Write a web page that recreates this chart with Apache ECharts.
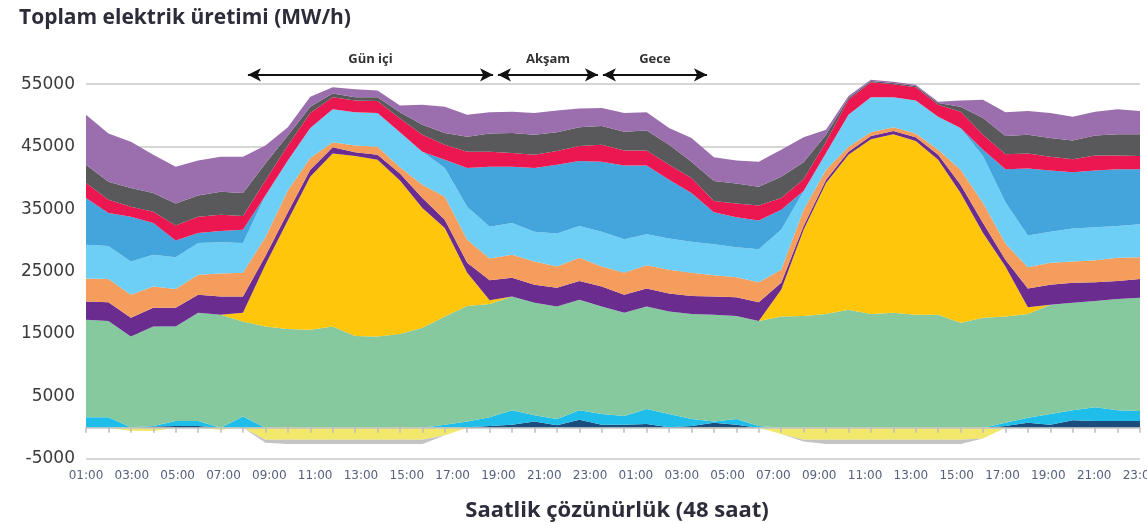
<!DOCTYPE html>
<html><head><meta charset="utf-8">
<script src="https://cdn.jsdelivr.net/npm/echarts@6/dist/echarts.min.js"></script>
<style>html,body{margin:0;padding:0;background:#fff}#c{width:1147px;height:523px}</style>
</head><body><div id="c"></div>
<script>
const hours = ['01:00','02:00','03:00','04:00','05:00','06:00','07:00','08:00','09:00','10:00','11:00','12:00',
  '13:00','14:00','15:00','16:00','17:00','18:00','19:00','20:00','21:00','22:00','23:00','24:00',
  '01:00','02:00','03:00','04:00','05:00','06:00','07:00','08:00','09:00','10:00','11:00','12:00',
  '13:00','14:00','15:00','16:00','17:00','18:00','19:00','20:00','21:00','22:00','23:00','24:00'];
const tickLabels = ['01:00','03:00','05:00','07:00','09:00','11:00','13:00','15:00','17:00','19:00','21:00','23:00',
  '01:00','03:00','05:00','07:00','09:00','11:00','13:00','15:00','17:00','19:00','21:00','23:00'];
const yLabels = [-5000, 5000, 15000, 25000, 35000, 45000, 55000];

// positive layers, bottom to top
const navy = [0,0,0,200,300,300,0,0, 0,0,0,0,0,0,0,0, 0,100,300,500,1000,400,1300,500, 500,600,100,300,800,500,0,0, 0,0,0,0,0,0,0,0, 0,300,800,500,1200,1100,1100,1100];
const cyan = [1700,1700,100,100,800,800,0,1800, 0,0,0,0,0,0,0,0, 500,900,1400,2300,1000,1000,1500,1700, 1400,2400,2100,1100,200,900,300,0, 0,0,0,0,0,0,0,0, 0,500,800,1700,1600,2200,1700,1600];
const green = [15600,15400,14500,15900,15100,17300,18100,15200, 16200,15800,15700,16200,14700,14600,15000,16000, 17300,18500,18100,18200,18000,18000,17700,17200, 16500,16400,16400,16800,17100,16500,16800,17800, 17900,18200,18900,18200,18400,18100,18100,16800, 17600,17000,16600,17500,17200,17000,17800,18100];
const gold = [0,0,0,0,0,0,0,1400, 9900,17400,24500,27700,28800,28300,24600,19200, 14200,5300,600,0,0,0,0,0, 0,0,0,0,0,0,0,4300, 13800,21000,24800,28000,28600,27800,24800,20800, 13600,8000,1100,0,0,0,0,0];
const purple = [2900,3000,3000,3000,3000,2900,2900,2600, 1400,1300,1100,1000,600,800,1100,1600, 1300,1600,3200,3000,2900,3000,3000,3200, 2900,2900,2900,2900,2900,3000,3000,1100, 600,500,500,500,500,600,800,1300, 1600,1100,3000,3200,3200,3000,2900,3000];
const orange = [3700,3700,3700,3400,3000,3200,3700,3800, 3000,3500,1900,800,1100,1300,1000,2100, 3700,3700,3500,3700,3700,3400,3700,3200, 3500,3700,3800,3700,3400,3200,3200,2100, 2600,1600,800,600,600,600,800,2400, 3200,2600,3400,3500,3400,3500,3700,3500];
const lightBlue = [5400,5300,5300,5100,5100,5100,5000,4800, 6700,4800,4800,5300,5300,5400,5600,5300, 4600,5300,5100,5100,4800,5300,5100,5600, 5400,5000,5000,5000,5000,4800,5300,6400, 3000,2700,5100,5600,4800,5300,5300,6700, 7500,6600,5100,5000,5300,5300,5100,5300];
const midBlue = [7500,5300,7200,5100,2700,1600,1800,2100, 0,0,0,0,0,0,0,0, 1300,6200,9600,9000,10200,11000,10400,11200, 11800,11000,9400,7800,5100,4800,4600,3200, 0,0,0,0,0,0,0,0, 1000,5300,10700,9800,9000,9100,9100,8800];
const red = [2400,2100,1600,1800,2400,2600,2600,2200, 2400,2400,2400,1900,1900,1900,2200,2700, 2400,2600,2400,2200,2100,2200,2400,2700, 2400,2400,2400,2400,1800,2200,2400,1900, 1900,1800,2400,2400,2100,2100,1900,2600, 2400,2400,2400,2200,2100,2400,2200,2100];
const darkGrey = [2900,2900,3000,3000,3500,3400,3700,3700, 2700,1600,1000,600,500,600,1000,1600, 1900,2400,2900,3200,3200,3000,3000,3000, 3000,3200,3200,2600,3200,3200,3000,3400, 2700,1100,300,200,200,200,300,800, 2700,2900,3000,3000,3000,3200,3400,3500];
const lavender = [8000,7700,7400,6100,5900,5600,5600,5800, 2900,1300,1600,1000,1300,1100,1100,3200, 4200,3500,3400,3400,3500,3500,3000,2900, 3000,2900,2700,3800,3800,3700,4000,4300, 4000,800,300,200,200,200,200,1000, 2900,3800,3800,4000,3800,3800,4000,3700];
// negative layers, from zero downwards
const paleYellow = [0,0,-500,-500,0,0,-300,0, -1900,-1900,-1900,-1900,-1900,-1900,-1900,-1900, -1200,0,0,0,0,0,0,0, 0,0,0,0,-200,0,0,-1000, -1900,-1900,-1900,-1900,-1900,-1900,-1900,-1900, -1700,0,0,0,0,0,0,0];
const lightGreyNeg = [0,0,0,0,0,0,0,0, -500,-700,-700,-700,-700,-700,-700,-700, 0,0,0,0,0,0,0,0, 0,0,0,0,0,0,0,0, -300,-700,-700,-700,-700,-700,-700,-700, 0,0,0,0,0,0,0,0];

// period annotations (arrow tips, in hour-index units)
const annLabels = ['Gün içi', 'Akşam', 'Gece'];
const annFrom = [7.22, 18.37, 23.05];
const annTo = [18.15, 22.83, 27.69];
const annY = 56500;

const layers = [
  {name:'navy', data:navy, color:'#1b4c7e', stack:'pos'},
  {name:'cyan', data:cyan, color:'#1fbde9', stack:'pos'},
  {name:'green', data:green, color:'#86c99f', stack:'pos'},
  {name:'gold', data:gold, color:'#ffc60b', stack:'pos'},
  {name:'purple', data:purple, color:'#6b2c8f', stack:'pos'},
  {name:'orange', data:orange, color:'#f59d5d', stack:'pos'},
  {name:'lightBlue', data:lightBlue, color:'#6dcff5', stack:'pos'},
  {name:'midBlue', data:midBlue, color:'#43a5db', stack:'pos'},
  {name:'red', data:red, color:'#ec1651', stack:'pos'},
  {name:'darkGrey', data:darkGrey, color:'#59595b', stack:'pos'},
  {name:'lavender', data:lavender, color:'#9b6fad', stack:'pos'},
  {name:'paleYellow', data:paleYellow, color:'#f2e86b', stack:'neg'},
  {name:'lightGreyNeg', data:lightGreyNeg, color:'#c3c3c3', stack:'neg'}
];

const series = layers.map(l => ({
  name: l.name, type: 'line', data: l.data, stack: l.stack, stackStrategy: 'all',
  xAxisIndex: 0, yAxisIndex: 0,
  symbol: 'none', showSymbol: false, smooth: false,
  lineStyle: {width: 0}, areaStyle: {color: l.color, opacity: 1},
  itemStyle: {color: l.color}, emphasis: {disabled: true}, silent: true
}));

series.push({
  name: 'periods', type: 'line', xAxisIndex: 1, yAxisIndex: 0, data: [], z: 20,
  markLine: {
    silent: true, animation: false,
    symbol: ['arrow', 'arrow'], symbolSize: [10, 13],
    lineStyle: {color: '#111', width: 2, type: 'solid'},
    label: {show: true, position: 'insideMiddleTop', distance: 9, formatter: '{b}',
      color: '#333', fontSize: 13, fontWeight: 'bold', fontFamily: 'Open Sans'},
    data: annLabels.map((t, i) => [{name: t, coord: [annFrom[i], annY]}, {coord: [annTo[i], annY]}])
  }
});

const chart = echarts.init(document.getElementById('c'), null, {renderer: 'canvas'});
chart.setOption({
  animation: false,
  backgroundColor: '#fff',
  title: [
    {text: 'Toplam elektrik üretimi (MW/h)', left: 14, top: 3,
      textStyle: {fontSize: 21, fontWeight: 'bold', color: '#2c2c3a', fontFamily: 'Open Sans'}},
    {text: 'Saatlik çözünürlük (48 saat)', left: 612, textAlign: 'center', top: 495,
      textStyle: {fontSize: 22, fontWeight: 'bold', color: '#2c2c3a', fontFamily: 'Open Sans'}}
  ],
  grid: {left: 86, right: 7, top: 53, bottom: 64, outerBoundsMode: 'none'},
  xAxis: [
    {type: 'category', data: hours, boundaryGap: false, position: 'bottom', z: 5,
      axisLine: {onZero: true, lineStyle: {color: '#c4c4c4', width: 1.5}},
      axisTick: {show: true, interval: 0, length: 5, lineStyle: {color: '#bdbdbd', width: 1.5}},
      axisLabel: {show: false}, splitLine: {show: false}},
    {type: 'value', min: 0, max: 47, interval: 47 / 23, position: 'bottom',
      axisLine: {show: false, onZero: false}, axisTick: {show: false}, splitLine: {show: false},
      axisLabel: {margin: 11, color: '#55607a', fontSize: 12, fontFamily: 'DejaVu Sans',
        formatter: v => tickLabels[Math.round(v * 23 / 47)] || ''}}
  ],
  yAxis: {type: 'value', min: -5000, max: 60000, interval: 5000,
    axisLine: {show: false}, axisTick: {show: false},
    axisLabel: {margin: 11, color: '#3a3a3a', fontSize: 17, fontFamily: 'DejaVu Sans',
      formatter: v => yLabels.indexOf(v) >= 0 ? String(v) : ''},
    splitLine: {show: true, lineStyle: {color: ['#c9c9c9', 'rgba(0,0,0,0)'], width: 1.5}}},
  series: series
});
</script>
</body></html>
